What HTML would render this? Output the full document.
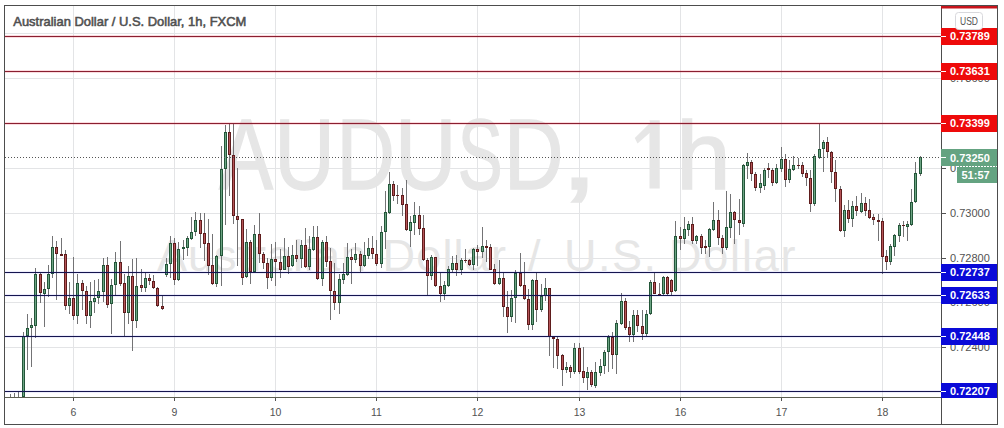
<!DOCTYPE html>
<html><head><meta charset="utf-8"><style>
html,body{margin:0;padding:0;background:#fff;}
svg{display:block;}
</style></head><body>
<svg width="1004" height="428" viewBox="0 0 1004 428" shape-rendering="crispEdges">
<rect width="1004" height="428" fill="#fff"/>
<line x1="73.5" y1="6" x2="73.5" y2="397" stroke="#e3e4e6" stroke-width="1"/><line x1="174.5" y1="6" x2="174.5" y2="397" stroke="#e3e4e6" stroke-width="1"/><line x1="275.5" y1="6" x2="275.5" y2="397" stroke="#e3e4e6" stroke-width="1"/><line x1="376.5" y1="6" x2="376.5" y2="397" stroke="#e3e4e6" stroke-width="1"/><line x1="477.5" y1="6" x2="477.5" y2="397" stroke="#e3e4e6" stroke-width="1"/><line x1="579.5" y1="6" x2="579.5" y2="397" stroke="#e3e4e6" stroke-width="1"/><line x1="680.5" y1="6" x2="680.5" y2="397" stroke="#e3e4e6" stroke-width="1"/><line x1="781.5" y1="6" x2="781.5" y2="397" stroke="#e3e4e6" stroke-width="1"/><line x1="882.5" y1="6" x2="882.5" y2="397" stroke="#e3e4e6" stroke-width="1"/><line x1="5" y1="33.5" x2="941" y2="33.5" stroke="#e3e4e6" stroke-width="1"/><line x1="5" y1="78.5" x2="941" y2="78.5" stroke="#e3e4e6" stroke-width="1"/><line x1="5" y1="123.5" x2="941" y2="123.5" stroke="#e3e4e6" stroke-width="1"/><line x1="5" y1="168.5" x2="941" y2="168.5" stroke="#e3e4e6" stroke-width="1"/><line x1="5" y1="213.5" x2="941" y2="213.5" stroke="#e3e4e6" stroke-width="1"/><line x1="5" y1="258.5" x2="941" y2="258.5" stroke="#e3e4e6" stroke-width="1"/><line x1="5" y1="302.5" x2="941" y2="302.5" stroke="#e3e4e6" stroke-width="1"/><line x1="5" y1="347.5" x2="941" y2="347.5" stroke="#e3e4e6" stroke-width="1"/><line x1="5" y1="391.5" x2="941" y2="391.5" stroke="#e3e4e6" stroke-width="1"/>
<g shape-rendering="auto"><text transform="translate(219.00,188.6) scale(0.8106,1.0)" font-family='"Liberation Sans", sans-serif' font-size="100" fill="#e6e6e6" stroke="#e6e6e6" stroke-width="1.5">A</text><text transform="translate(274.29,188.6) scale(0.8393,1.0)" font-family='"Liberation Sans", sans-serif' font-size="100" fill="#e6e6e6" stroke="#e6e6e6" stroke-width="1.5">U</text><text transform="translate(336.53,188.6) scale(0.8085,1.0)" font-family='"Liberation Sans", sans-serif' font-size="100" fill="#e6e6e6" stroke="#e6e6e6" stroke-width="1.5">D</text><text transform="translate(394.90,188.6) scale(0.8500,1.0)" font-family='"Liberation Sans", sans-serif' font-size="100" fill="#e6e6e6" stroke="#e6e6e6" stroke-width="1.5">U</text><text transform="translate(457.84,188.6) scale(0.6719,1.0)" font-family='"Liberation Sans", sans-serif' font-size="100" fill="#e6e6e6" stroke="#e6e6e6" stroke-width="1.5">S</text><text transform="translate(504.11,188.6) scale(0.8237,1.0)" font-family='"Liberation Sans", sans-serif' font-size="100" fill="#e6e6e6" stroke="#e6e6e6" stroke-width="1.5">D</text><text transform="translate(559.34,188.6) scale(1.4400,1.0)" font-family='"Liberation Sans", sans-serif' font-size="100" fill="#e6e6e6" stroke="#e6e6e6" stroke-width="1.5">,</text><text transform="translate(676.10,188.6) scale(0.9857,0.965)" font-family='"Liberation Sans", sans-serif' font-size="100" fill="#e6e6e6" stroke="#e6e6e6" stroke-width="1.5">h</text><path d="M649.5 120.2 H659.7 V188.6 H649.5 V133 L637.5 143.5 L634.8 138 L650 123 Z" fill="#e6e6e6"/><text x="157" y="270.6" font-family='"Liberation Sans", sans-serif' font-size="45" fill="#e6e6e6" letter-spacing="1.0">Australian</text><text x="382.5" y="270.6" font-family='"Liberation Sans", sans-serif' font-size="45" fill="#e6e6e6" letter-spacing="1.2">Dollar</text><text x="528" y="270.6" font-family='"Liberation Sans", sans-serif' font-size="45" fill="#e6e6e6" letter-spacing="0">/</text><text x="564" y="270.6" font-family='"Liberation Sans", sans-serif' font-size="45" fill="#e6e6e6" letter-spacing="1.5">U.S.</text><text x="669" y="270.6" font-family='"Liberation Sans", sans-serif' font-size="45" fill="#e6e6e6" letter-spacing="1.8">Dollar</text></g>
<rect x="10" y="394" width="1" height="3" fill="#737375"/><rect x="14" y="393" width="1" height="4" fill="#737375"/><rect x="18" y="392" width="1" height="5" fill="#737375"/><rect x="23" y="332" width="1" height="65" fill="#737375"/><rect x="22" y="336" width="3" height="61" fill="#235639"/><rect x="23" y="337" width="1" height="59" fill="#6ca483"/><rect x="27" y="314" width="1" height="56" fill="#737375"/><rect x="26" y="328" width="3" height="8" fill="#235639"/><rect x="27" y="329" width="1" height="6" fill="#6ca483"/><rect x="31" y="318" width="1" height="49" fill="#737375"/><rect x="30" y="325" width="3" height="3" fill="#235639"/><rect x="31" y="326" width="1" height="1" fill="#6ca483"/><rect x="35" y="268" width="1" height="70" fill="#737375"/><rect x="34" y="274" width="3" height="52" fill="#235639"/><rect x="35" y="275" width="1" height="50" fill="#6ca483"/><rect x="40" y="272" width="1" height="31" fill="#737375"/><rect x="39" y="274" width="3" height="19" fill="#5e1c1c"/><rect x="40" y="275" width="1" height="17" fill="#b65458"/><rect x="44" y="282" width="1" height="45" fill="#737375"/><rect x="43" y="289" width="3" height="5" fill="#235639"/><rect x="44" y="290" width="1" height="3" fill="#6ca483"/><rect x="48" y="265" width="1" height="32" fill="#737375"/><rect x="47" y="274" width="3" height="15" fill="#235639"/><rect x="48" y="275" width="1" height="13" fill="#6ca483"/><rect x="52" y="236" width="1" height="42" fill="#737375"/><rect x="51" y="247" width="3" height="27" fill="#235639"/><rect x="52" y="248" width="1" height="25" fill="#6ca483"/><rect x="56" y="241" width="1" height="59" fill="#737375"/><rect x="55" y="247" width="3" height="7" fill="#5e1c1c"/><rect x="56" y="248" width="1" height="5" fill="#b65458"/><rect x="61" y="238" width="1" height="18" fill="#737375"/><rect x="60" y="254" width="3" height="2" fill="#5e1c1c"/><rect x="65" y="250" width="1" height="60" fill="#737375"/><rect x="64" y="254" width="3" height="52" fill="#5e1c1c"/><rect x="65" y="255" width="1" height="50" fill="#b65458"/><rect x="69" y="282" width="1" height="32" fill="#737375"/><rect x="68" y="298" width="3" height="8" fill="#235639"/><rect x="69" y="299" width="1" height="6" fill="#6ca483"/><rect x="73" y="257" width="1" height="63" fill="#737375"/><rect x="72" y="298" width="3" height="18" fill="#5e1c1c"/><rect x="73" y="299" width="1" height="16" fill="#b65458"/><rect x="77" y="274" width="1" height="50" fill="#737375"/><rect x="76" y="283" width="3" height="33" fill="#235639"/><rect x="77" y="284" width="1" height="31" fill="#6ca483"/><rect x="82" y="280" width="1" height="30" fill="#737375"/><rect x="81" y="283" width="3" height="8" fill="#5e1c1c"/><rect x="82" y="284" width="1" height="6" fill="#b65458"/><rect x="86" y="286" width="1" height="38" fill="#737375"/><rect x="85" y="291" width="3" height="25" fill="#5e1c1c"/><rect x="86" y="292" width="1" height="23" fill="#b65458"/><rect x="90" y="282" width="1" height="46" fill="#737375"/><rect x="89" y="301" width="3" height="15" fill="#235639"/><rect x="90" y="302" width="1" height="13" fill="#6ca483"/><rect x="94" y="280" width="1" height="33" fill="#737375"/><rect x="93" y="298" width="3" height="4" fill="#235639"/><rect x="94" y="299" width="1" height="2" fill="#6ca483"/><rect x="98" y="279" width="1" height="25" fill="#737375"/><rect x="97" y="291" width="3" height="7" fill="#235639"/><rect x="98" y="292" width="1" height="5" fill="#6ca483"/><rect x="103" y="258" width="1" height="44" fill="#737375"/><rect x="102" y="265" width="3" height="27" fill="#235639"/><rect x="103" y="266" width="1" height="25" fill="#6ca483"/><rect x="107" y="257" width="1" height="51" fill="#737375"/><rect x="106" y="265" width="3" height="40" fill="#5e1c1c"/><rect x="107" y="266" width="1" height="38" fill="#b65458"/><rect x="111" y="279" width="1" height="55" fill="#737375"/><rect x="110" y="285" width="3" height="19" fill="#235639"/><rect x="111" y="286" width="1" height="17" fill="#6ca483"/><rect x="115" y="252" width="1" height="44" fill="#737375"/><rect x="114" y="262" width="3" height="23" fill="#235639"/><rect x="115" y="263" width="1" height="21" fill="#6ca483"/><rect x="120" y="241" width="1" height="45" fill="#737375"/><rect x="119" y="262" width="3" height="22" fill="#5e1c1c"/><rect x="120" y="263" width="1" height="20" fill="#b65458"/><rect x="124" y="274" width="1" height="62" fill="#737375"/><rect x="123" y="283" width="3" height="30" fill="#5e1c1c"/><rect x="124" y="284" width="1" height="28" fill="#b65458"/><rect x="128" y="266" width="1" height="58" fill="#737375"/><rect x="127" y="276" width="3" height="37" fill="#235639"/><rect x="128" y="277" width="1" height="35" fill="#6ca483"/><rect x="132" y="259" width="1" height="92" fill="#737375"/><rect x="131" y="276" width="3" height="45" fill="#5e1c1c"/><rect x="132" y="277" width="1" height="43" fill="#b65458"/><rect x="136" y="258" width="1" height="70" fill="#737375"/><rect x="135" y="286" width="3" height="35" fill="#235639"/><rect x="136" y="287" width="1" height="33" fill="#6ca483"/><rect x="141" y="269" width="1" height="23" fill="#737375"/><rect x="140" y="285" width="3" height="3" fill="#5e1c1c"/><rect x="141" y="286" width="1" height="1" fill="#b65458"/><rect x="145" y="273" width="1" height="19" fill="#737375"/><rect x="144" y="278" width="3" height="10" fill="#235639"/><rect x="145" y="279" width="1" height="8" fill="#6ca483"/><rect x="149" y="274" width="1" height="11" fill="#737375"/><rect x="148" y="278" width="3" height="3" fill="#5e1c1c"/><rect x="149" y="279" width="1" height="1" fill="#b65458"/><rect x="153" y="275" width="1" height="14" fill="#737375"/><rect x="152" y="281" width="3" height="7" fill="#5e1c1c"/><rect x="153" y="282" width="1" height="5" fill="#b65458"/><rect x="157" y="287" width="1" height="20" fill="#737375"/><rect x="156" y="288" width="3" height="18" fill="#5e1c1c"/><rect x="157" y="289" width="1" height="16" fill="#b65458"/><rect x="162" y="296" width="1" height="14" fill="#737375"/><rect x="161" y="306" width="3" height="3" fill="#5e1c1c"/><rect x="162" y="307" width="1" height="1" fill="#b65458"/><rect x="166" y="258" width="1" height="19" fill="#737375"/><rect x="165" y="264" width="3" height="11" fill="#235639"/><rect x="166" y="265" width="1" height="9" fill="#6ca483"/><rect x="170" y="236" width="1" height="42" fill="#737375"/><rect x="169" y="243" width="3" height="21" fill="#235639"/><rect x="170" y="244" width="1" height="19" fill="#6ca483"/><rect x="174" y="238" width="1" height="47" fill="#737375"/><rect x="173" y="243" width="3" height="37" fill="#5e1c1c"/><rect x="174" y="244" width="1" height="35" fill="#b65458"/><rect x="178" y="242" width="1" height="39" fill="#737375"/><rect x="177" y="249" width="3" height="31" fill="#235639"/><rect x="178" y="250" width="1" height="29" fill="#6ca483"/><rect x="183" y="240" width="1" height="20" fill="#737375"/><rect x="182" y="247" width="3" height="2" fill="#235639"/><rect x="187" y="236" width="1" height="20" fill="#737375"/><rect x="186" y="238" width="3" height="10" fill="#235639"/><rect x="187" y="239" width="1" height="8" fill="#6ca483"/><rect x="191" y="217" width="1" height="23" fill="#737375"/><rect x="190" y="232" width="3" height="7" fill="#235639"/><rect x="191" y="233" width="1" height="5" fill="#6ca483"/><rect x="195" y="212" width="1" height="24" fill="#737375"/><rect x="194" y="220" width="3" height="12" fill="#235639"/><rect x="195" y="221" width="1" height="10" fill="#6ca483"/><rect x="200" y="213" width="1" height="35" fill="#737375"/><rect x="199" y="220" width="3" height="14" fill="#5e1c1c"/><rect x="200" y="221" width="1" height="12" fill="#b65458"/><rect x="204" y="213" width="1" height="48" fill="#737375"/><rect x="203" y="233" width="3" height="11" fill="#5e1c1c"/><rect x="204" y="234" width="1" height="9" fill="#b65458"/><rect x="208" y="219" width="1" height="56" fill="#737375"/><rect x="207" y="243" width="3" height="23" fill="#5e1c1c"/><rect x="208" y="244" width="1" height="21" fill="#b65458"/><rect x="212" y="234" width="1" height="51" fill="#737375"/><rect x="211" y="265" width="3" height="19" fill="#5e1c1c"/><rect x="212" y="266" width="1" height="17" fill="#b65458"/><rect x="216" y="255" width="1" height="32" fill="#737375"/><rect x="215" y="256" width="3" height="28" fill="#235639"/><rect x="216" y="257" width="1" height="26" fill="#6ca483"/><rect x="221" y="146" width="1" height="140" fill="#737375"/><rect x="220" y="169" width="3" height="87" fill="#235639"/><rect x="221" y="170" width="1" height="85" fill="#6ca483"/><rect x="225" y="125" width="1" height="100" fill="#737375"/><rect x="224" y="132" width="3" height="37" fill="#235639"/><rect x="225" y="133" width="1" height="35" fill="#6ca483"/><rect x="229" y="124" width="1" height="72" fill="#737375"/><rect x="228" y="132" width="3" height="23" fill="#5e1c1c"/><rect x="229" y="133" width="1" height="21" fill="#b65458"/><rect x="233" y="124" width="1" height="100" fill="#737375"/><rect x="232" y="155" width="3" height="61" fill="#5e1c1c"/><rect x="233" y="156" width="1" height="59" fill="#b65458"/><rect x="237" y="168" width="1" height="98" fill="#737375"/><rect x="236" y="216" width="3" height="4" fill="#5e1c1c"/><rect x="237" y="217" width="1" height="2" fill="#b65458"/><rect x="242" y="219" width="1" height="66" fill="#737375"/><rect x="241" y="219" width="3" height="59" fill="#5e1c1c"/><rect x="242" y="220" width="1" height="57" fill="#b65458"/><rect x="246" y="229" width="1" height="49" fill="#737375"/><rect x="245" y="242" width="3" height="35" fill="#235639"/><rect x="246" y="243" width="1" height="33" fill="#6ca483"/><rect x="250" y="240" width="1" height="44" fill="#737375"/><rect x="249" y="242" width="3" height="30" fill="#5e1c1c"/><rect x="250" y="243" width="1" height="28" fill="#b65458"/><rect x="254" y="225" width="1" height="48" fill="#737375"/><rect x="253" y="234" width="3" height="38" fill="#235639"/><rect x="254" y="235" width="1" height="36" fill="#6ca483"/><rect x="259" y="213" width="1" height="50" fill="#737375"/><rect x="258" y="234" width="3" height="20" fill="#5e1c1c"/><rect x="259" y="235" width="1" height="18" fill="#b65458"/><rect x="263" y="252" width="1" height="17" fill="#737375"/><rect x="262" y="254" width="3" height="9" fill="#5e1c1c"/><rect x="263" y="255" width="1" height="7" fill="#b65458"/><rect x="267" y="258" width="1" height="31" fill="#737375"/><rect x="266" y="263" width="3" height="15" fill="#5e1c1c"/><rect x="267" y="264" width="1" height="13" fill="#b65458"/><rect x="271" y="244" width="1" height="37" fill="#737375"/><rect x="270" y="259" width="3" height="19" fill="#235639"/><rect x="271" y="260" width="1" height="17" fill="#6ca483"/><rect x="275" y="242" width="1" height="44" fill="#737375"/><rect x="274" y="259" width="3" height="3" fill="#5e1c1c"/><rect x="275" y="260" width="1" height="1" fill="#b65458"/><rect x="280" y="249" width="1" height="29" fill="#737375"/><rect x="279" y="262" width="3" height="8" fill="#5e1c1c"/><rect x="280" y="263" width="1" height="6" fill="#b65458"/><rect x="284" y="238" width="1" height="32" fill="#737375"/><rect x="283" y="256" width="3" height="14" fill="#235639"/><rect x="284" y="257" width="1" height="12" fill="#6ca483"/><rect x="288" y="247" width="1" height="27" fill="#737375"/><rect x="287" y="256" width="3" height="11" fill="#5e1c1c"/><rect x="288" y="257" width="1" height="9" fill="#b65458"/><rect x="292" y="245" width="1" height="22" fill="#737375"/><rect x="291" y="255" width="3" height="11" fill="#235639"/><rect x="292" y="256" width="1" height="9" fill="#6ca483"/><rect x="296" y="240" width="1" height="22" fill="#737375"/><rect x="295" y="255" width="3" height="4" fill="#5e1c1c"/><rect x="296" y="256" width="1" height="2" fill="#b65458"/><rect x="301" y="240" width="1" height="28" fill="#737375"/><rect x="300" y="245" width="3" height="14" fill="#235639"/><rect x="301" y="246" width="1" height="12" fill="#6ca483"/><rect x="305" y="228" width="1" height="40" fill="#737375"/><rect x="304" y="245" width="3" height="22" fill="#5e1c1c"/><rect x="305" y="246" width="1" height="20" fill="#b65458"/><rect x="309" y="236" width="1" height="34" fill="#737375"/><rect x="308" y="249" width="3" height="18" fill="#235639"/><rect x="309" y="250" width="1" height="16" fill="#6ca483"/><rect x="313" y="226" width="1" height="25" fill="#737375"/><rect x="312" y="237" width="3" height="13" fill="#235639"/><rect x="313" y="238" width="1" height="11" fill="#6ca483"/><rect x="317" y="226" width="1" height="54" fill="#737375"/><rect x="316" y="237" width="3" height="42" fill="#5e1c1c"/><rect x="317" y="238" width="1" height="40" fill="#b65458"/><rect x="322" y="240" width="1" height="46" fill="#737375"/><rect x="321" y="242" width="3" height="37" fill="#235639"/><rect x="322" y="243" width="1" height="35" fill="#6ca483"/><rect x="326" y="236" width="1" height="31" fill="#737375"/><rect x="325" y="242" width="3" height="20" fill="#5e1c1c"/><rect x="326" y="243" width="1" height="18" fill="#b65458"/><rect x="330" y="248" width="1" height="72" fill="#737375"/><rect x="329" y="261" width="3" height="30" fill="#5e1c1c"/><rect x="330" y="262" width="1" height="28" fill="#b65458"/><rect x="334" y="263" width="1" height="47" fill="#737375"/><rect x="333" y="291" width="3" height="12" fill="#5e1c1c"/><rect x="334" y="292" width="1" height="10" fill="#b65458"/><rect x="339" y="274" width="1" height="40" fill="#737375"/><rect x="338" y="279" width="3" height="24" fill="#235639"/><rect x="339" y="280" width="1" height="22" fill="#6ca483"/><rect x="343" y="263" width="1" height="21" fill="#737375"/><rect x="342" y="274" width="3" height="6" fill="#235639"/><rect x="343" y="275" width="1" height="4" fill="#6ca483"/><rect x="347" y="243" width="1" height="33" fill="#737375"/><rect x="346" y="257" width="3" height="18" fill="#235639"/><rect x="347" y="258" width="1" height="16" fill="#6ca483"/><rect x="351" y="249" width="1" height="35" fill="#737375"/><rect x="350" y="257" width="3" height="3" fill="#5e1c1c"/><rect x="351" y="258" width="1" height="1" fill="#b65458"/><rect x="355" y="243" width="1" height="20" fill="#737375"/><rect x="354" y="254" width="3" height="6" fill="#235639"/><rect x="355" y="255" width="1" height="4" fill="#6ca483"/><rect x="360" y="251" width="1" height="21" fill="#737375"/><rect x="359" y="254" width="3" height="12" fill="#5e1c1c"/><rect x="360" y="255" width="1" height="10" fill="#b65458"/><rect x="364" y="242" width="1" height="25" fill="#737375"/><rect x="363" y="255" width="3" height="11" fill="#235639"/><rect x="364" y="256" width="1" height="9" fill="#6ca483"/><rect x="368" y="238" width="1" height="21" fill="#737375"/><rect x="367" y="248" width="3" height="8" fill="#235639"/><rect x="368" y="249" width="1" height="6" fill="#6ca483"/><rect x="372" y="236" width="1" height="23" fill="#737375"/><rect x="371" y="248" width="3" height="6" fill="#5e1c1c"/><rect x="372" y="249" width="1" height="4" fill="#b65458"/><rect x="376" y="240" width="1" height="26" fill="#737375"/><rect x="375" y="254" width="3" height="10" fill="#5e1c1c"/><rect x="376" y="255" width="1" height="8" fill="#b65458"/><rect x="381" y="226" width="1" height="42" fill="#737375"/><rect x="380" y="232" width="3" height="32" fill="#235639"/><rect x="381" y="233" width="1" height="30" fill="#6ca483"/><rect x="385" y="191" width="1" height="58" fill="#737375"/><rect x="384" y="212" width="3" height="20" fill="#235639"/><rect x="385" y="213" width="1" height="18" fill="#6ca483"/><rect x="389" y="172" width="1" height="42" fill="#737375"/><rect x="388" y="184" width="3" height="29" fill="#235639"/><rect x="389" y="185" width="1" height="27" fill="#6ca483"/><rect x="393" y="181" width="1" height="20" fill="#737375"/><rect x="392" y="184" width="3" height="12" fill="#5e1c1c"/><rect x="393" y="185" width="1" height="10" fill="#b65458"/><rect x="397" y="185" width="1" height="19" fill="#737375"/><rect x="396" y="195" width="3" height="1" fill="#5e1c1c"/><rect x="402" y="188" width="1" height="28" fill="#737375"/><rect x="401" y="195" width="3" height="10" fill="#5e1c1c"/><rect x="402" y="196" width="1" height="8" fill="#b65458"/><rect x="406" y="180" width="1" height="51" fill="#737375"/><rect x="405" y="204" width="3" height="26" fill="#5e1c1c"/><rect x="406" y="205" width="1" height="24" fill="#b65458"/><rect x="410" y="216" width="1" height="31" fill="#737375"/><rect x="409" y="222" width="3" height="9" fill="#235639"/><rect x="410" y="223" width="1" height="7" fill="#6ca483"/><rect x="414" y="202" width="1" height="33" fill="#737375"/><rect x="413" y="215" width="3" height="8" fill="#235639"/><rect x="414" y="216" width="1" height="6" fill="#6ca483"/><rect x="419" y="206" width="1" height="29" fill="#737375"/><rect x="418" y="215" width="3" height="14" fill="#5e1c1c"/><rect x="419" y="216" width="1" height="12" fill="#b65458"/><rect x="423" y="215" width="1" height="46" fill="#737375"/><rect x="422" y="228" width="3" height="32" fill="#5e1c1c"/><rect x="423" y="229" width="1" height="30" fill="#b65458"/><rect x="427" y="258" width="1" height="37" fill="#737375"/><rect x="426" y="260" width="3" height="16" fill="#5e1c1c"/><rect x="427" y="261" width="1" height="14" fill="#b65458"/><rect x="431" y="255" width="1" height="25" fill="#737375"/><rect x="430" y="257" width="3" height="19" fill="#235639"/><rect x="431" y="258" width="1" height="17" fill="#6ca483"/><rect x="435" y="257" width="1" height="30" fill="#737375"/><rect x="434" y="257" width="3" height="29" fill="#5e1c1c"/><rect x="435" y="258" width="1" height="27" fill="#b65458"/><rect x="440" y="273" width="1" height="29" fill="#737375"/><rect x="439" y="286" width="3" height="8" fill="#5e1c1c"/><rect x="440" y="287" width="1" height="6" fill="#b65458"/><rect x="444" y="281" width="1" height="19" fill="#737375"/><rect x="443" y="285" width="3" height="9" fill="#235639"/><rect x="444" y="286" width="1" height="7" fill="#6ca483"/><rect x="448" y="266" width="1" height="21" fill="#737375"/><rect x="447" y="269" width="3" height="17" fill="#235639"/><rect x="448" y="270" width="1" height="15" fill="#6ca483"/><rect x="452" y="256" width="1" height="16" fill="#737375"/><rect x="451" y="263" width="3" height="7" fill="#235639"/><rect x="452" y="264" width="1" height="5" fill="#6ca483"/><rect x="456" y="255" width="1" height="21" fill="#737375"/><rect x="455" y="263" width="3" height="7" fill="#5e1c1c"/><rect x="456" y="264" width="1" height="5" fill="#b65458"/><rect x="461" y="258" width="1" height="17" fill="#737375"/><rect x="460" y="260" width="3" height="10" fill="#235639"/><rect x="461" y="261" width="1" height="8" fill="#6ca483"/><rect x="465" y="249" width="1" height="14" fill="#737375"/><rect x="464" y="260" width="3" height="1" fill="#5e1c1c"/><rect x="469" y="259" width="1" height="7" fill="#737375"/><rect x="468" y="260" width="3" height="5" fill="#5e1c1c"/><rect x="469" y="261" width="1" height="3" fill="#b65458"/><rect x="473" y="248" width="1" height="22" fill="#737375"/><rect x="472" y="249" width="3" height="16" fill="#235639"/><rect x="473" y="250" width="1" height="14" fill="#6ca483"/><rect x="477" y="245" width="1" height="21" fill="#737375"/><rect x="476" y="249" width="3" height="3" fill="#5e1c1c"/><rect x="477" y="250" width="1" height="1" fill="#b65458"/><rect x="482" y="227" width="1" height="31" fill="#737375"/><rect x="481" y="246" width="3" height="6" fill="#235639"/><rect x="482" y="247" width="1" height="4" fill="#6ca483"/><rect x="486" y="240" width="1" height="22" fill="#737375"/><rect x="485" y="246" width="3" height="2" fill="#5e1c1c"/><rect x="490" y="244" width="1" height="26" fill="#737375"/><rect x="489" y="247" width="3" height="23" fill="#5e1c1c"/><rect x="490" y="248" width="1" height="21" fill="#b65458"/><rect x="494" y="264" width="1" height="21" fill="#737375"/><rect x="493" y="269" width="3" height="15" fill="#5e1c1c"/><rect x="494" y="270" width="1" height="13" fill="#b65458"/><rect x="499" y="260" width="1" height="25" fill="#737375"/><rect x="498" y="278" width="3" height="6" fill="#235639"/><rect x="499" y="279" width="1" height="4" fill="#6ca483"/><rect x="503" y="273" width="1" height="44" fill="#737375"/><rect x="502" y="278" width="3" height="29" fill="#5e1c1c"/><rect x="503" y="279" width="1" height="27" fill="#b65458"/><rect x="507" y="291" width="1" height="42" fill="#737375"/><rect x="506" y="307" width="3" height="10" fill="#5e1c1c"/><rect x="507" y="308" width="1" height="8" fill="#b65458"/><rect x="511" y="290" width="1" height="32" fill="#737375"/><rect x="510" y="298" width="3" height="19" fill="#235639"/><rect x="511" y="299" width="1" height="17" fill="#6ca483"/><rect x="515" y="270" width="1" height="53" fill="#737375"/><rect x="514" y="273" width="3" height="25" fill="#235639"/><rect x="515" y="274" width="1" height="23" fill="#6ca483"/><rect x="520" y="253" width="1" height="34" fill="#737375"/><rect x="519" y="273" width="3" height="13" fill="#5e1c1c"/><rect x="520" y="274" width="1" height="11" fill="#b65458"/><rect x="524" y="262" width="1" height="38" fill="#737375"/><rect x="523" y="285" width="3" height="14" fill="#5e1c1c"/><rect x="524" y="286" width="1" height="12" fill="#b65458"/><rect x="528" y="289" width="1" height="41" fill="#737375"/><rect x="527" y="299" width="3" height="26" fill="#5e1c1c"/><rect x="528" y="300" width="1" height="24" fill="#b65458"/><rect x="532" y="279" width="1" height="51" fill="#737375"/><rect x="531" y="280" width="3" height="45" fill="#235639"/><rect x="532" y="281" width="1" height="43" fill="#6ca483"/><rect x="536" y="273" width="1" height="49" fill="#737375"/><rect x="535" y="280" width="3" height="30" fill="#5e1c1c"/><rect x="536" y="281" width="1" height="28" fill="#b65458"/><rect x="541" y="284" width="1" height="28" fill="#737375"/><rect x="540" y="296" width="3" height="14" fill="#235639"/><rect x="541" y="297" width="1" height="12" fill="#6ca483"/><rect x="545" y="278" width="1" height="23" fill="#737375"/><rect x="544" y="288" width="3" height="8" fill="#235639"/><rect x="545" y="289" width="1" height="6" fill="#6ca483"/><rect x="549" y="288" width="1" height="68" fill="#737375"/><rect x="548" y="288" width="3" height="49" fill="#5e1c1c"/><rect x="549" y="289" width="1" height="47" fill="#b65458"/><rect x="553" y="336" width="1" height="32" fill="#737375"/><rect x="552" y="337" width="3" height="2" fill="#5e1c1c"/><rect x="557" y="336" width="1" height="33" fill="#737375"/><rect x="556" y="339" width="3" height="17" fill="#5e1c1c"/><rect x="557" y="340" width="1" height="15" fill="#b65458"/><rect x="562" y="354" width="1" height="32" fill="#737375"/><rect x="561" y="355" width="3" height="15" fill="#5e1c1c"/><rect x="562" y="356" width="1" height="13" fill="#b65458"/><rect x="566" y="362" width="1" height="11" fill="#737375"/><rect x="565" y="367" width="3" height="3" fill="#235639"/><rect x="566" y="368" width="1" height="1" fill="#6ca483"/><rect x="570" y="365" width="1" height="13" fill="#737375"/><rect x="569" y="367" width="3" height="5" fill="#5e1c1c"/><rect x="570" y="368" width="1" height="3" fill="#b65458"/><rect x="574" y="343" width="1" height="31" fill="#737375"/><rect x="573" y="348" width="3" height="24" fill="#235639"/><rect x="574" y="349" width="1" height="22" fill="#6ca483"/><rect x="579" y="343" width="1" height="31" fill="#737375"/><rect x="578" y="348" width="3" height="24" fill="#5e1c1c"/><rect x="579" y="349" width="1" height="22" fill="#b65458"/><rect x="583" y="347" width="1" height="36" fill="#737375"/><rect x="582" y="371" width="3" height="7" fill="#5e1c1c"/><rect x="583" y="372" width="1" height="5" fill="#b65458"/><rect x="587" y="367" width="1" height="23" fill="#737375"/><rect x="586" y="372" width="3" height="6" fill="#235639"/><rect x="587" y="373" width="1" height="4" fill="#6ca483"/><rect x="591" y="370" width="1" height="17" fill="#737375"/><rect x="590" y="372" width="3" height="13" fill="#5e1c1c"/><rect x="591" y="373" width="1" height="11" fill="#b65458"/><rect x="595" y="362" width="1" height="26" fill="#737375"/><rect x="594" y="372" width="3" height="14" fill="#235639"/><rect x="595" y="373" width="1" height="12" fill="#6ca483"/><rect x="600" y="359" width="1" height="17" fill="#737375"/><rect x="599" y="366" width="3" height="7" fill="#235639"/><rect x="600" y="367" width="1" height="5" fill="#6ca483"/><rect x="604" y="350" width="1" height="24" fill="#737375"/><rect x="603" y="352" width="3" height="14" fill="#235639"/><rect x="604" y="353" width="1" height="12" fill="#6ca483"/><rect x="608" y="335" width="1" height="37" fill="#737375"/><rect x="607" y="337" width="3" height="15" fill="#235639"/><rect x="608" y="338" width="1" height="13" fill="#6ca483"/><rect x="612" y="332" width="1" height="37" fill="#737375"/><rect x="611" y="337" width="3" height="18" fill="#5e1c1c"/><rect x="612" y="338" width="1" height="16" fill="#b65458"/><rect x="616" y="320" width="1" height="54" fill="#737375"/><rect x="615" y="323" width="3" height="32" fill="#235639"/><rect x="616" y="324" width="1" height="30" fill="#6ca483"/><rect x="621" y="293" width="1" height="32" fill="#737375"/><rect x="620" y="301" width="3" height="23" fill="#235639"/><rect x="621" y="302" width="1" height="21" fill="#6ca483"/><rect x="625" y="298" width="1" height="32" fill="#737375"/><rect x="624" y="301" width="3" height="27" fill="#5e1c1c"/><rect x="625" y="302" width="1" height="25" fill="#b65458"/><rect x="629" y="321" width="1" height="21" fill="#737375"/><rect x="628" y="327" width="3" height="8" fill="#5e1c1c"/><rect x="629" y="328" width="1" height="6" fill="#b65458"/><rect x="633" y="310" width="1" height="32" fill="#737375"/><rect x="632" y="315" width="3" height="20" fill="#235639"/><rect x="633" y="316" width="1" height="18" fill="#6ca483"/><rect x="637" y="310" width="1" height="22" fill="#737375"/><rect x="636" y="315" width="3" height="11" fill="#5e1c1c"/><rect x="637" y="316" width="1" height="9" fill="#b65458"/><rect x="642" y="310" width="1" height="30" fill="#737375"/><rect x="641" y="326" width="3" height="8" fill="#5e1c1c"/><rect x="642" y="327" width="1" height="6" fill="#b65458"/><rect x="646" y="310" width="1" height="26" fill="#737375"/><rect x="645" y="314" width="3" height="20" fill="#235639"/><rect x="646" y="315" width="1" height="18" fill="#6ca483"/><rect x="650" y="280" width="1" height="35" fill="#737375"/><rect x="649" y="282" width="3" height="32" fill="#235639"/><rect x="650" y="283" width="1" height="30" fill="#6ca483"/><rect x="654" y="273" width="1" height="21" fill="#737375"/><rect x="653" y="282" width="3" height="12" fill="#5e1c1c"/><rect x="654" y="283" width="1" height="10" fill="#b65458"/><rect x="659" y="283" width="1" height="12" fill="#737375"/><rect x="658" y="294" width="3" height="1" fill="#5e1c1c"/><rect x="663" y="276" width="1" height="19" fill="#737375"/><rect x="662" y="277" width="3" height="17" fill="#235639"/><rect x="663" y="278" width="1" height="15" fill="#6ca483"/><rect x="667" y="276" width="1" height="19" fill="#737375"/><rect x="666" y="277" width="3" height="17" fill="#5e1c1c"/><rect x="667" y="278" width="1" height="15" fill="#b65458"/><rect x="671" y="279" width="1" height="16" fill="#737375"/><rect x="670" y="280" width="3" height="12" fill="#5e1c1c"/><rect x="671" y="281" width="1" height="10" fill="#b65458"/><rect x="675" y="221" width="1" height="71" fill="#737375"/><rect x="674" y="236" width="3" height="55" fill="#235639"/><rect x="675" y="237" width="1" height="53" fill="#6ca483"/><rect x="680" y="227" width="1" height="23" fill="#737375"/><rect x="679" y="236" width="3" height="3" fill="#5e1c1c"/><rect x="680" y="237" width="1" height="1" fill="#b65458"/><rect x="684" y="217" width="1" height="27" fill="#737375"/><rect x="683" y="229" width="3" height="10" fill="#235639"/><rect x="684" y="230" width="1" height="8" fill="#6ca483"/><rect x="688" y="221" width="1" height="15" fill="#737375"/><rect x="687" y="224" width="3" height="6" fill="#235639"/><rect x="688" y="225" width="1" height="4" fill="#6ca483"/><rect x="692" y="217" width="1" height="27" fill="#737375"/><rect x="691" y="224" width="3" height="17" fill="#5e1c1c"/><rect x="692" y="225" width="1" height="15" fill="#b65458"/><rect x="696" y="235" width="1" height="9" fill="#737375"/><rect x="695" y="236" width="3" height="5" fill="#235639"/><rect x="696" y="237" width="1" height="3" fill="#6ca483"/><rect x="701" y="234" width="1" height="20" fill="#737375"/><rect x="700" y="236" width="3" height="12" fill="#5e1c1c"/><rect x="701" y="237" width="1" height="10" fill="#b65458"/><rect x="705" y="240" width="1" height="14" fill="#737375"/><rect x="704" y="246" width="3" height="2" fill="#5e1c1c"/><rect x="709" y="228" width="1" height="29" fill="#737375"/><rect x="708" y="229" width="3" height="18" fill="#235639"/><rect x="709" y="230" width="1" height="16" fill="#6ca483"/><rect x="713" y="202" width="1" height="29" fill="#737375"/><rect x="712" y="220" width="3" height="10" fill="#235639"/><rect x="713" y="221" width="1" height="8" fill="#6ca483"/><rect x="718" y="210" width="1" height="35" fill="#737375"/><rect x="717" y="220" width="3" height="18" fill="#5e1c1c"/><rect x="718" y="221" width="1" height="16" fill="#b65458"/><rect x="722" y="235" width="1" height="19" fill="#737375"/><rect x="721" y="238" width="3" height="10" fill="#5e1c1c"/><rect x="722" y="239" width="1" height="8" fill="#b65458"/><rect x="726" y="191" width="1" height="59" fill="#737375"/><rect x="725" y="227" width="3" height="21" fill="#235639"/><rect x="726" y="228" width="1" height="19" fill="#6ca483"/><rect x="730" y="194" width="1" height="44" fill="#737375"/><rect x="729" y="212" width="3" height="16" fill="#235639"/><rect x="730" y="213" width="1" height="14" fill="#6ca483"/><rect x="734" y="211" width="1" height="33" fill="#737375"/><rect x="733" y="212" width="3" height="8" fill="#5e1c1c"/><rect x="734" y="213" width="1" height="6" fill="#b65458"/><rect x="739" y="199" width="1" height="36" fill="#737375"/><rect x="738" y="220" width="3" height="3" fill="#5e1c1c"/><rect x="739" y="221" width="1" height="1" fill="#b65458"/><rect x="743" y="164" width="1" height="63" fill="#737375"/><rect x="742" y="165" width="3" height="59" fill="#235639"/><rect x="743" y="166" width="1" height="57" fill="#6ca483"/><rect x="747" y="153" width="1" height="26" fill="#737375"/><rect x="746" y="162" width="3" height="4" fill="#235639"/><rect x="747" y="163" width="1" height="2" fill="#6ca483"/><rect x="751" y="160" width="1" height="21" fill="#737375"/><rect x="750" y="162" width="3" height="12" fill="#5e1c1c"/><rect x="751" y="163" width="1" height="10" fill="#b65458"/><rect x="755" y="172" width="1" height="19" fill="#737375"/><rect x="754" y="174" width="3" height="14" fill="#5e1c1c"/><rect x="755" y="175" width="1" height="12" fill="#b65458"/><rect x="760" y="174" width="1" height="19" fill="#737375"/><rect x="759" y="183" width="3" height="5" fill="#235639"/><rect x="760" y="184" width="1" height="3" fill="#6ca483"/><rect x="764" y="168" width="1" height="22" fill="#737375"/><rect x="763" y="170" width="3" height="16" fill="#235639"/><rect x="764" y="171" width="1" height="14" fill="#6ca483"/><rect x="768" y="163" width="1" height="15" fill="#737375"/><rect x="767" y="168" width="3" height="2" fill="#5e1c1c"/><rect x="772" y="168" width="1" height="18" fill="#737375"/><rect x="771" y="170" width="3" height="13" fill="#5e1c1c"/><rect x="772" y="171" width="1" height="11" fill="#b65458"/><rect x="776" y="164" width="1" height="20" fill="#737375"/><rect x="775" y="168" width="3" height="15" fill="#235639"/><rect x="776" y="169" width="1" height="13" fill="#6ca483"/><rect x="781" y="147" width="1" height="25" fill="#737375"/><rect x="780" y="159" width="3" height="10" fill="#235639"/><rect x="781" y="160" width="1" height="8" fill="#6ca483"/><rect x="785" y="154" width="1" height="33" fill="#737375"/><rect x="784" y="159" width="3" height="21" fill="#5e1c1c"/><rect x="785" y="160" width="1" height="19" fill="#b65458"/><rect x="789" y="160" width="1" height="23" fill="#737375"/><rect x="788" y="169" width="3" height="11" fill="#235639"/><rect x="789" y="170" width="1" height="9" fill="#6ca483"/><rect x="793" y="156" width="1" height="15" fill="#737375"/><rect x="792" y="165" width="3" height="5" fill="#235639"/><rect x="793" y="166" width="1" height="3" fill="#6ca483"/><rect x="798" y="158" width="1" height="11" fill="#737375"/><rect x="797" y="165" width="3" height="1" fill="#5e1c1c"/><rect x="802" y="162" width="1" height="15" fill="#737375"/><rect x="801" y="165" width="3" height="9" fill="#5e1c1c"/><rect x="802" y="166" width="1" height="7" fill="#b65458"/><rect x="806" y="170" width="1" height="16" fill="#737375"/><rect x="805" y="173" width="3" height="5" fill="#5e1c1c"/><rect x="806" y="174" width="1" height="3" fill="#b65458"/><rect x="810" y="170" width="1" height="42" fill="#737375"/><rect x="809" y="178" width="3" height="26" fill="#5e1c1c"/><rect x="810" y="179" width="1" height="24" fill="#b65458"/><rect x="814" y="154" width="1" height="52" fill="#737375"/><rect x="813" y="156" width="3" height="48" fill="#235639"/><rect x="814" y="157" width="1" height="46" fill="#6ca483"/><rect x="819" y="124" width="1" height="35" fill="#737375"/><rect x="818" y="149" width="3" height="9" fill="#235639"/><rect x="819" y="150" width="1" height="7" fill="#6ca483"/><rect x="823" y="140" width="1" height="32" fill="#737375"/><rect x="822" y="142" width="3" height="7" fill="#235639"/><rect x="823" y="143" width="1" height="5" fill="#6ca483"/><rect x="827" y="137" width="1" height="20" fill="#737375"/><rect x="826" y="142" width="3" height="10" fill="#5e1c1c"/><rect x="827" y="143" width="1" height="8" fill="#b65458"/><rect x="831" y="151" width="1" height="32" fill="#737375"/><rect x="830" y="152" width="3" height="20" fill="#5e1c1c"/><rect x="831" y="153" width="1" height="18" fill="#b65458"/><rect x="835" y="160" width="1" height="42" fill="#737375"/><rect x="834" y="172" width="3" height="17" fill="#5e1c1c"/><rect x="835" y="173" width="1" height="15" fill="#b65458"/><rect x="840" y="186" width="1" height="46" fill="#737375"/><rect x="839" y="189" width="3" height="42" fill="#5e1c1c"/><rect x="840" y="190" width="1" height="40" fill="#b65458"/><rect x="844" y="205" width="1" height="32" fill="#737375"/><rect x="843" y="210" width="3" height="21" fill="#235639"/><rect x="844" y="211" width="1" height="19" fill="#6ca483"/><rect x="848" y="200" width="1" height="23" fill="#737375"/><rect x="847" y="210" width="3" height="9" fill="#5e1c1c"/><rect x="848" y="211" width="1" height="7" fill="#b65458"/><rect x="852" y="201" width="1" height="26" fill="#737375"/><rect x="851" y="206" width="3" height="13" fill="#235639"/><rect x="852" y="207" width="1" height="11" fill="#6ca483"/><rect x="856" y="196" width="1" height="20" fill="#737375"/><rect x="855" y="206" width="3" height="5" fill="#5e1c1c"/><rect x="856" y="207" width="1" height="3" fill="#b65458"/><rect x="861" y="193" width="1" height="20" fill="#737375"/><rect x="860" y="203" width="3" height="9" fill="#235639"/><rect x="861" y="204" width="1" height="7" fill="#6ca483"/><rect x="865" y="197" width="1" height="19" fill="#737375"/><rect x="864" y="203" width="3" height="8" fill="#5e1c1c"/><rect x="865" y="204" width="1" height="6" fill="#b65458"/><rect x="869" y="199" width="1" height="20" fill="#737375"/><rect x="868" y="210" width="3" height="8" fill="#5e1c1c"/><rect x="869" y="211" width="1" height="6" fill="#b65458"/><rect x="873" y="214" width="1" height="11" fill="#737375"/><rect x="872" y="217" width="3" height="3" fill="#5e1c1c"/><rect x="873" y="218" width="1" height="1" fill="#b65458"/><rect x="878" y="214" width="1" height="27" fill="#737375"/><rect x="877" y="220" width="3" height="2" fill="#5e1c1c"/><rect x="882" y="218" width="1" height="56" fill="#737375"/><rect x="881" y="221" width="3" height="36" fill="#5e1c1c"/><rect x="882" y="222" width="1" height="34" fill="#b65458"/><rect x="886" y="250" width="1" height="20" fill="#737375"/><rect x="885" y="256" width="3" height="6" fill="#5e1c1c"/><rect x="886" y="257" width="1" height="4" fill="#b65458"/><rect x="890" y="244" width="1" height="21" fill="#737375"/><rect x="889" y="246" width="3" height="16" fill="#235639"/><rect x="890" y="247" width="1" height="14" fill="#6ca483"/><rect x="894" y="234" width="1" height="22" fill="#737375"/><rect x="893" y="235" width="3" height="12" fill="#235639"/><rect x="894" y="236" width="1" height="10" fill="#6ca483"/><rect x="899" y="223" width="1" height="19" fill="#737375"/><rect x="898" y="225" width="3" height="11" fill="#235639"/><rect x="899" y="226" width="1" height="9" fill="#6ca483"/><rect x="903" y="221" width="1" height="16" fill="#737375"/><rect x="902" y="225" width="3" height="1" fill="#5e1c1c"/><rect x="907" y="221" width="1" height="20" fill="#737375"/><rect x="906" y="224" width="3" height="3" fill="#235639"/><rect x="907" y="225" width="1" height="1" fill="#6ca483"/><rect x="911" y="189" width="1" height="37" fill="#737375"/><rect x="910" y="202" width="3" height="23" fill="#235639"/><rect x="911" y="203" width="1" height="21" fill="#6ca483"/><rect x="915" y="162" width="1" height="41" fill="#737375"/><rect x="914" y="173" width="3" height="29" fill="#235639"/><rect x="915" y="174" width="1" height="27" fill="#6ca483"/><rect x="920" y="156" width="1" height="20" fill="#737375"/><rect x="919" y="157" width="3" height="17" fill="#235639"/><rect x="920" y="158" width="1" height="15" fill="#6ca483"/>
<line x1="5" y1="36.5" x2="941" y2="36.5" stroke="#8a1f30" stroke-width="1"/><line x1="5" y1="35.5" x2="941" y2="35.5" stroke="rgba(225,0,30,0.14)" stroke-width="1"/><line x1="5" y1="37.5" x2="941" y2="37.5" stroke="rgba(225,0,30,0.14)" stroke-width="1"/><line x1="5" y1="71.5" x2="941" y2="71.5" stroke="#8a1f30" stroke-width="1"/><line x1="5" y1="70.5" x2="941" y2="70.5" stroke="rgba(225,0,30,0.14)" stroke-width="1"/><line x1="5" y1="72.5" x2="941" y2="72.5" stroke="rgba(225,0,30,0.14)" stroke-width="1"/><line x1="5" y1="123.5" x2="941" y2="123.5" stroke="#8a1f30" stroke-width="1"/><line x1="5" y1="122.5" x2="941" y2="122.5" stroke="rgba(225,0,30,0.14)" stroke-width="1"/><line x1="5" y1="124.5" x2="941" y2="124.5" stroke="rgba(225,0,30,0.14)" stroke-width="1"/><line x1="5" y1="272.5" x2="941" y2="272.5" stroke="#15154f" stroke-width="1"/><line x1="5" y1="271.5" x2="941" y2="271.5" stroke="rgba(0,0,200,0.07)" stroke-width="1"/><line x1="5" y1="273.5" x2="941" y2="273.5" stroke="rgba(0,0,200,0.07)" stroke-width="1"/><line x1="5" y1="295.5" x2="941" y2="295.5" stroke="#15154f" stroke-width="1"/><line x1="5" y1="294.5" x2="941" y2="294.5" stroke="rgba(0,0,200,0.07)" stroke-width="1"/><line x1="5" y1="296.5" x2="941" y2="296.5" stroke="rgba(0,0,200,0.07)" stroke-width="1"/><line x1="5" y1="336.5" x2="941" y2="336.5" stroke="#15154f" stroke-width="1"/><line x1="5" y1="335.5" x2="941" y2="335.5" stroke="rgba(0,0,200,0.07)" stroke-width="1"/><line x1="5" y1="337.5" x2="941" y2="337.5" stroke="rgba(0,0,200,0.07)" stroke-width="1"/><line x1="5" y1="391.5" x2="941" y2="391.5" stroke="#15154f" stroke-width="1"/><line x1="5" y1="390.5" x2="941" y2="390.5" stroke="rgba(0,0,200,0.07)" stroke-width="1"/><line x1="5" y1="392.5" x2="941" y2="392.5" stroke="rgba(0,0,200,0.07)" stroke-width="1"/><line x1="5" y1="157.5" x2="941" y2="157.5" stroke="#555" stroke-width="1" stroke-dasharray="1 2"/>
<g shape-rendering="auto"><line x1="73.5" y1="397" x2="73.5" y2="401" stroke="#525252" stroke-width="1"/><text x="73.5" y="416" text-anchor="middle" font-family='"Liberation Sans", sans-serif' font-size="10.5" fill="#525252">6</text><line x1="174.5" y1="397" x2="174.5" y2="401" stroke="#525252" stroke-width="1"/><text x="174.5" y="416" text-anchor="middle" font-family='"Liberation Sans", sans-serif' font-size="10.5" fill="#525252">9</text><line x1="275.5" y1="397" x2="275.5" y2="401" stroke="#525252" stroke-width="1"/><text x="275.5" y="416" text-anchor="middle" font-family='"Liberation Sans", sans-serif' font-size="10.5" fill="#525252">10</text><line x1="376.5" y1="397" x2="376.5" y2="401" stroke="#525252" stroke-width="1"/><text x="376.5" y="416" text-anchor="middle" font-family='"Liberation Sans", sans-serif' font-size="10.5" fill="#525252">11</text><line x1="477.5" y1="397" x2="477.5" y2="401" stroke="#525252" stroke-width="1"/><text x="477.5" y="416" text-anchor="middle" font-family='"Liberation Sans", sans-serif' font-size="10.5" fill="#525252">12</text><line x1="579.5" y1="397" x2="579.5" y2="401" stroke="#525252" stroke-width="1"/><text x="579.5" y="416" text-anchor="middle" font-family='"Liberation Sans", sans-serif' font-size="10.5" fill="#525252">13</text><line x1="680.5" y1="397" x2="680.5" y2="401" stroke="#525252" stroke-width="1"/><text x="680.5" y="416" text-anchor="middle" font-family='"Liberation Sans", sans-serif' font-size="10.5" fill="#525252">16</text><line x1="781.5" y1="397" x2="781.5" y2="401" stroke="#525252" stroke-width="1"/><text x="781.5" y="416" text-anchor="middle" font-family='"Liberation Sans", sans-serif' font-size="10.5" fill="#525252">17</text><line x1="882.5" y1="397" x2="882.5" y2="401" stroke="#525252" stroke-width="1"/><text x="882.5" y="416" text-anchor="middle" font-family='"Liberation Sans", sans-serif' font-size="10.5" fill="#525252">18</text><text x="13.3" y="26.4" font-family='"Liberation Sans", sans-serif' font-size="12.6" fill="#505050" stroke="#505050" stroke-width="0.55" textLength="233" lengthAdjust="spacingAndGlyphs">Australian Dollar / U.S. Dollar, 1h, FXCM</text></g>
<line x1="941.5" y1="5" x2="941.5" y2="424" stroke="#4d4d4d" stroke-width="1"/><line x1="5" y1="397.5" x2="941" y2="397.5" stroke="#5c5e50" stroke-width="1"/><rect x="4.5" y="5.5" width="993" height="418.5" fill="none" stroke="#4d4d4d" stroke-width="1"/>
<g shape-rendering="auto"><line x1="941" y1="33.5" x2="946" y2="33.5" stroke="#525252" stroke-width="1"/><text x="950" y="37" font-family='"Liberation Sans", sans-serif' font-size="11" fill="#525252">0.73800</text><line x1="941" y1="78.5" x2="946" y2="78.5" stroke="#525252" stroke-width="1"/><text x="950" y="82" font-family='"Liberation Sans", sans-serif' font-size="11" fill="#525252">0.73600</text><line x1="941" y1="123.5" x2="946" y2="123.5" stroke="#525252" stroke-width="1"/><text x="950" y="127" font-family='"Liberation Sans", sans-serif' font-size="11" fill="#525252">0.73400</text><line x1="941" y1="168.5" x2="946" y2="168.5" stroke="#525252" stroke-width="1"/><text x="950" y="172" font-family='"Liberation Sans", sans-serif' font-size="11" fill="#525252">0.73200</text><line x1="941" y1="213.5" x2="946" y2="213.5" stroke="#525252" stroke-width="1"/><text x="950" y="217" font-family='"Liberation Sans", sans-serif' font-size="11" fill="#525252">0.73000</text><line x1="941" y1="258.5" x2="946" y2="258.5" stroke="#525252" stroke-width="1"/><text x="950" y="262" font-family='"Liberation Sans", sans-serif' font-size="11" fill="#525252">0.72800</text><line x1="941" y1="302.5" x2="946" y2="302.5" stroke="#525252" stroke-width="1"/><text x="950" y="306" font-family='"Liberation Sans", sans-serif' font-size="11" fill="#525252">0.72600</text><line x1="941" y1="347.5" x2="946" y2="347.5" stroke="#525252" stroke-width="1"/><text x="950" y="351" font-family='"Liberation Sans", sans-serif' font-size="11" fill="#525252">0.72400</text><line x1="941" y1="391.5" x2="946" y2="391.5" stroke="#525252" stroke-width="1"/><text x="950" y="395" font-family='"Liberation Sans", sans-serif' font-size="11" fill="#525252">0.72200</text><rect x="941" y="6" width="56" height="2.5" fill="#c8141c"/><rect x="941" y="28" width="56" height="17" fill="#ee0a0a"/><line x1="941" y1="36.5" x2="946" y2="36.5" stroke="#fff" stroke-width="1"/><text x="950" y="40" font-family='"Liberation Sans", sans-serif' font-size="11" font-weight="bold" fill="#fff">0.73789</text><rect x="941" y="63" width="56" height="17" fill="#ee0a0a"/><line x1="941" y1="71.5" x2="946" y2="71.5" stroke="#fff" stroke-width="1"/><text x="950" y="75" font-family='"Liberation Sans", sans-serif' font-size="11" font-weight="bold" fill="#fff">0.73631</text><rect x="941" y="115" width="56" height="17" fill="#ee0a0a"/><line x1="941" y1="123.5" x2="946" y2="123.5" stroke="#fff" stroke-width="1"/><text x="950" y="127" font-family='"Liberation Sans", sans-serif' font-size="11" font-weight="bold" fill="#fff">0.73399</text><rect x="941" y="264" width="56" height="17" fill="#0a0ad8"/><line x1="941" y1="272.5" x2="946" y2="272.5" stroke="#fff" stroke-width="1"/><text x="950" y="276" font-family='"Liberation Sans", sans-serif' font-size="11" font-weight="bold" fill="#fff">0.72737</text><rect x="941" y="287" width="56" height="17" fill="#0a0ad8"/><line x1="941" y1="295.5" x2="946" y2="295.5" stroke="#fff" stroke-width="1"/><text x="950" y="299" font-family='"Liberation Sans", sans-serif' font-size="11" font-weight="bold" fill="#fff">0.72633</text><rect x="941" y="328" width="56" height="17" fill="#0a0ad8"/><line x1="941" y1="336.5" x2="946" y2="336.5" stroke="#fff" stroke-width="1"/><text x="950" y="340" font-family='"Liberation Sans", sans-serif' font-size="11" font-weight="bold" fill="#fff">0.72448</text><rect x="941" y="383" width="56" height="15" fill="#0a0ad8"/><line x1="941" y1="391.5" x2="946" y2="391.5" stroke="#fff" stroke-width="1"/><text x="950" y="395" font-family='"Liberation Sans", sans-serif' font-size="11" font-weight="bold" fill="#fff">0.72207</text><rect x="941" y="149" width="56" height="17" fill="#64a381"/><line x1="941" y1="157.5" x2="946" y2="157.5" stroke="#fff" stroke-width="1"/><text x="950" y="161.5" font-family='"Liberation Sans", sans-serif' font-size="11" font-weight="bold" fill="#fff">0.73250</text><rect x="957" y="166" width="40" height="17" fill="#64a381"/><line x1="957" y1="166.5" x2="997" y2="166.5" stroke="#fff" stroke-width="1" stroke-dasharray="2 1"/><text x="961.5" y="178.5" font-family='"Liberation Sans", sans-serif' font-size="11" font-weight="bold" fill="#fff">51:57</text><rect x="955.5" y="12.5" width="27" height="17" rx="3" fill="#fff" stroke="#d8d8dc"/><text x="969" y="25" text-anchor="middle" font-family='"Liberation Sans", sans-serif' font-size="10.5" fill="#525252" textLength="18" lengthAdjust="spacingAndGlyphs">USD</text></g>
</svg>
</body></html>
